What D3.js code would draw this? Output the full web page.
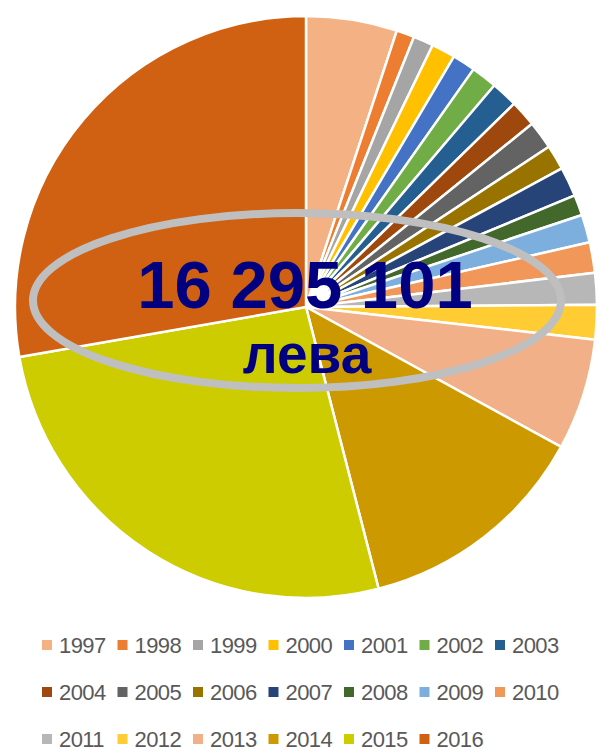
<!DOCTYPE html>
<html>
<head>
<meta charset="utf-8">
<script src="https://cdn.jsdelivr.net/npm/d3@7"></script>
<style>
	html, body { margin: 0; padding: 0; background: #fff; }
	#chart { width: 597px; height: 747px; overflow: hidden; }
</style>
</head>
<body>
<div id="chart"></div>
<script>
	// years and amounts (thousands of leva)
	var years = ["1997", "1998", "1999", "2000", "2001", "2002", "2003", "2004", "2005", "2006",
		"2007", "2008", "2009", "2010", "2011", "2012", "2013", "2014", "2015", "2016"];
	var amounts = [823, 163, 183, 215, 208, 235, 240, 240, 253, 226,
		267, 186, 253, 276, 285, 312, 1009, 2118, 4280, 4520];
	var colors = ["#F4B183", "#ED7D31", "#A5A5A5", "#FFC000", "#4472C4", "#70AD47", "#255E91",
		"#9E480E", "#636363", "#997300", "#264478", "#43682B", "#7CAFDD", "#F1975A",
		"#B7B7B7", "#FFCD33", "#F2B088", "#CC9A00", "#CCCC00", "#D06012"];
	var totalLabel = "16 295 101";
	var unitLabel = "лева";

	var width = 597, height = 747;
	var cx = 306, cy = 307, radius = 291;

	var data = years.map(function (y, i) {
		return { year: y, value: amounts[i], color: colors[i] };
	});

	var svg = d3.select("#chart")
		.append("svg")
		.attr("width", width)
		.attr("height", height);

	var pie = d3.pie()
		.sort(null)
		.value(function (d) { return d.value; });

	var arc = d3.arc()
		.innerRadius(0)
		.outerRadius(radius);

	var pieG = svg.append("g")
		.attr("transform", "translate(" + cx + "," + cy + ")");

	pieG.selectAll("path")
		.data(pie(data))
		.enter()
		.append("path")
		.attr("d", arc)
		.attr("fill", function (d) { return d.data.color; })
		.attr("stroke", "#fff")
		.attr("stroke-width", 2.5)
		.attr("stroke-linejoin", "round");

	// grey ring round the total
	svg.append("ellipse")
		.attr("cx", 297)
		.attr("cy", 300.5)
		.attr("rx", 264)
		.attr("ry", 87.5)
		.attr("fill", "none")
		.attr("stroke", "#BFBFBF")
		.attr("stroke-width", 8);

	svg.append("text")
		.attr("x", 305)
		.attr("y", 308)
		.attr("text-anchor", "middle")
		.style("font-family", "'Liberation Sans', Arial, sans-serif")
		.style("font-weight", "bold")
		.style("font-size", "67px")
		.attr("fill", "#000080")
		.text(totalLabel);

	svg.append("text")
		.attr("x", 307)
		.attr("y", 373)
		.attr("text-anchor", "middle")
		.style("font-family", "'Liberation Sans', Arial, sans-serif")
		.style("font-weight", "bold")
		.style("font-size", "55px")
		.attr("fill", "#000080")
		.text(unitLabel);

	// legend, 7 per row
	var perRow = 7, colW = 75.5, rowH = 47, legX = 42, legY = 645;
	var legend = svg.append("g");
	var items = legend.selectAll("g")
		.data(data)
		.enter()
		.append("g")
		.attr("transform", function (d, i) {
			return "translate(" + (legX + (i % perRow) * colW) + "," + (legY + Math.floor(i / perRow) * rowH) + ")";
		});

	items.append("rect")
		.attr("x", 0)
		.attr("y", -5)
		.attr("width", 10)
		.attr("height", 10)
		.attr("fill", function (d) { return d.color; });

	items.append("text")
		.attr("x", 17)
		.attr("y", 8)
		.style("font-family", "'Liberation Sans', Arial, sans-serif")
		.style("font-size", "22px")
		.style("letter-spacing", "-0.6px")
		.attr("fill", "#595959")
		.text(function (d) { return d.year; });
</script>
</body>
</html>
